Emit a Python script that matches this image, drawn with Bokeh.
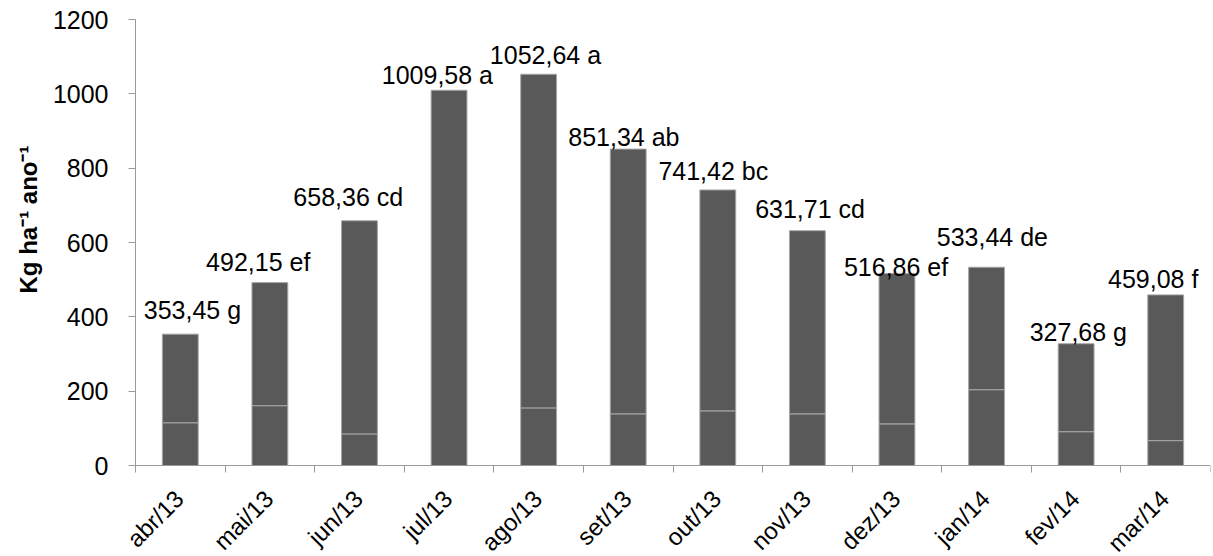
import math
from bokeh.plotting import figure
from bokeh.models import ColumnDataSource, FixedTicker, Range1d, Title
from bokeh.core.properties import value
from bokeh.embed import file_html
from bokeh.resources import INLINE

months = ["abr/13", "mai/13", "jun/13", "jul/13", "ago/13", "set/13",
          "out/13", "nov/13", "dez/13", "jan/14", "fev/14", "mar/14"]
totals = [353.45, 492.15, 658.36, 1009.58, 1052.64, 851.34,
          741.42, 631.71, 516.86, 533.44, 327.68, 459.08]
lower = [115, 161, 85, 0, 155, 139, 147, 139, 112, 204, 91, 67]
letters = ["g", "ef", "cd", "a", "a", "ab", "bc", "cd", "ef", "de", "g", "f"]
y_ticks = [0, 200, 400, 600, 800, 1000, 1200]

# label placement offsets (category units / data units)
label_dx = [0.135, -0.13, -0.125, -0.13, 0.076, -0.048, -0.05, 0.03, -0.01, 0.065, 0.025, -0.14]
label_dy = [64, 55, 64, 42, 51, 33, 51, 58, 17, 81, 31, 44]

FONT = "Liberation Sans"
BAR = "#595959"
EDGE = "#a6a6a6"
AXIS = "#9a9a9a"

W, H = 1213, 556
AXIS_X, RIGHT = 135, 3               # pixel position of the value axis, right border
TOP_PX = 19                          # pixel position of the 1200 line
FRAME_LEFT = 45                      # frame extends left so tick labels are not cut
PLOT_PX = 446                        # pixels from 0 to 1200
Y_MAX = 1200
PX_PER_UNIT = PLOT_PX / Y_MAX
BOTTOM_PX = H - TOP_PX - PLOT_PX     # room below the zero line for month labels
Y_MIN = -BOTTOM_PX / PX_PER_UNIT
Y_END = Y_MAX + TOP_PX / PX_PER_UNIT
N = len(months)
CAT_PX = (W - AXIS_X - RIGHT) / N
X_MIN = -(AXIS_X - FRAME_LEFT) / CAT_PX

xs = [i + 0.5 for i in range(N)]
src = ColumnDataSource(dict(
    x=xs,
    lower=lower,
    total=totals,
    lx=[x + d for x, d in zip(xs, label_dx)],
    ly=[t + d for t, d in zip(totals, label_dy)],
    txt=[f"{t:.2f}".replace(".", ",") + " " + l for t, l in zip(totals, letters)],
))
msrc = ColumnDataSource(dict(
    x=[x - 1 / CAT_PX for x in xs],
    y=[-29 / PX_PER_UNIT] * N,
    m=months,
))

p = figure(width=W, height=H,
           min_border_left=FRAME_LEFT, min_border_top=0, min_border_bottom=0,
           min_border_right=RIGHT,
           x_range=Range1d(X_MIN, N), y_range=Range1d(Y_MIN, Y_END),
           output_backend="svg", toolbar_location=None)
p.outline_line_color = None
p.grid.visible = False

p.vbar(x="x", bottom=0, top="lower", width=0.4, source=src,
       fill_color=BAR, line_color=EDGE, line_width=1)
p.vbar(x="x", bottom="lower", top="total", width=0.4, source=src,
       fill_color=BAR, line_color=EDGE, line_width=1)

p.text(x="lx", y="ly", text="txt", source=src, text_align="center",
       text_baseline="alphabetic", text_font=value(FONT), text_font_size="25px",
       text_color="#000000")

# month labels, rotated
p.text(x="x", y="y", text="m", source=msrc, angle=math.pi / 4,
       text_align="right", text_baseline="middle",
       text_font=value(FONT), text_font_size="24px", text_color="#000000")

# x axis at zero, ticks at category boundaries
xa = p.xaxis[0]
xa.fixed_location = 0
xa.bounds = (0, N)
xa.ticker = FixedTicker(ticks=xs, minor_ticks=list(range(N + 1)))
xa.major_label_overrides = {x: "" for x in xs}
xa.major_label_text_font_size = "1px"
xa.major_label_standoff = 0
xa.major_tick_out = 0
xa.major_tick_in = 0
xa.minor_tick_out = 7
xa.minor_tick_in = 0
xa.minor_tick_line_color = AXIS
xa.axis_line_color = AXIS

# y axis at x = 0
ya = p.yaxis[0]
ya.fixed_location = 0
ya.bounds = (0, Y_MAX)
ya.ticker = FixedTicker(ticks=y_ticks)
ya.major_tick_out = 7
ya.major_tick_in = 0
ya.minor_tick_out = 0
ya.minor_tick_in = 0
ya.major_tick_line_color = AXIS
ya.axis_line_color = AXIS
ya.major_label_text_font = FONT
ya.major_label_text_font_size = "25px"
ya.major_label_text_color = "#000000"
ya.major_label_standoff = 20

ylab = Title(text="Kg ha\u207b\u00b9 ano\u207b\u00b9", align="left", offset=H - 293,
             text_font=FONT, text_font_style="bold", text_font_size="24px",
             text_color="#000000", standoff=8)
p.add_layout(ylab, "left")

open("out.html", "w").write(file_html(p, INLINE))
